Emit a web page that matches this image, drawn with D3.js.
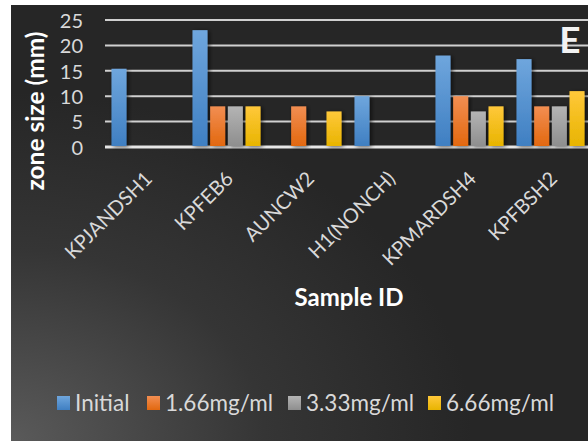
<!DOCTYPE html>
<html><head><meta charset="utf-8">
<script src="https://cdn.jsdelivr.net/npm/d3@7"></script>
<style>html,body{margin:0;padding:0;background:#fff;}svg{display:block;}</style>
</head><body>
<script>
const categories = ["KPJANDSH1","KPFEB6","AUNCW2","H1(NONCH)","KPMARDSH4","KPFBSH2"];
const seriesNames = ["Initial","1.66mg/ml","3.33mg/ml","6.66mg/ml"];
const initial = [15.4, 23, 0, 10, 18, 17.3];
const c166 = [0, 8, 8, 0, 10, 8];
const c333 = [0, 8, 0, 0, 7, 8];
const c666 = [0, 8, 7, 0, 8, 11];
const yTicks = [0,5,10,15,20,25];
const seriesValues = [initial, c166, c333, c666];
const colorsTop = ["#6fa6dd","#f28e52","#b4b4b4","#ffc83a"];
const colorsBot = ["#3f7fc2","#e2680f","#8e8e8e","#e8b400"];

const W=588,H=441;
const svg=d3.select("body").append("svg").attr("width",W).attr("height",H);
const defs=svg.append("defs");
const bg=defs.append("radialGradient").attr("id","bg").attr("cx","0").attr("cy","1").attr("r","0.8")
  .attr("gradientUnits","objectBoundingBox");
bg.append("stop").attr("offset","0").attr("stop-color","#5a5a5a");
bg.append("stop").attr("offset","0.55").attr("stop-color","#353535");
bg.append("stop").attr("offset","1").attr("stop-color","#262626");
seriesNames.forEach((s,i)=>{
  const g=defs.append("linearGradient").attr("id","g"+i).attr("x1",0).attr("y1",0).attr("x2",0).attr("y2",1);
  g.append("stop").attr("offset",0).attr("stop-color",colorsTop[i]);
  g.append("stop").attr("offset",1).attr("stop-color",colorsBot[i]);
});
const sh=defs.append("filter").attr("id","sh").attr("x","-30%").attr("y","-10%").attr("width","160%").attr("height","130%");
sh.append("feDropShadow").attr("dx",2).attr("dy",1).attr("stdDeviation",2).attr("flood-color","#000").attr("flood-opacity",0.6);

svg.append("rect").attr("x",11).attr("y",5).attr("width",W-11).attr("height",H-5).attr("fill","url(#bg)");

const font="Lato, 'Open Sans', sans-serif";
const x0=d3.scaleBand().domain(categories).range([105,591]).paddingInner(0.16).paddingOuter(0.08);
const x1=d3.scaleBand().domain(seriesNames).range([0,x0.bandwidth()]).paddingInner(0.15);
const y=d3.scaleLinear().domain([0,25]).range([147,20]);

// gridlines
svg.append("g").selectAll("line").data(yTicks).join("line")
  .attr("x1",105).attr("x2",W).attr("y1",d=>y(d)).attr("y2",d=>y(d))
  .attr("stroke",d=>d===0?"#e6e6e6":"#d0d0d0").attr("stroke-width",d=>d===0?3:2);

// y axis labels
const yAxis=d3.axisLeft(y).tickValues(yTicks).tickSize(0).tickPadding(0);
const ya=svg.append("g").attr("transform","translate(83,0)").call(yAxis);
ya.select(".domain").remove();
ya.selectAll("text").attr("font-family",font).attr("font-size",20).attr("fill","#d9d9d9").attr("dy","0.36em");

// bars
const groups=svg.append("g").selectAll("g").data(categories).join("g")
  .attr("transform",d=>`translate(${x0(d)},0)`);
groups.selectAll("rect").data((d,ci)=>seriesNames.map((s,si)=>({s,si,v:seriesValues[si][ci]})).filter(e=>e.v>0))
  .join("rect").attr("x",e=>x1(e.s)).attr("width",x1.bandwidth())
  .attr("y",e=>y(e.v)).attr("height",e=>y(0)-y(e.v)-1)
  .attr("fill",e=>`url(#g${e.si})`).attr("filter","url(#sh)");

// x labels
svg.append("g").selectAll("text").data(categories).join("text")
  .attr("transform",d=>`translate(${x0(d)+x0.bandwidth()/2+8},180) rotate(-45)`)
  .attr("text-anchor","end").attr("font-family",font).attr("font-size",20).attr("fill","#d9d9d9")
  .text(d=>d);

// axis titles
svg.append("text").attr("x",349).attr("y",306).attr("text-anchor","middle")
  .attr("font-family",font).attr("font-weight","bold").attr("font-size",24).attr("fill","#fff").text("Sample ID");
svg.append("text").attr("transform","translate(44,111) rotate(-90)").attr("text-anchor","middle")
  .attr("font-family",font).attr("font-weight","bold").attr("font-size",24.5).attr("fill","#fff").text("zone size (mm)");

// panel letter
svg.append("text").attr("x",570).attr("y",53).attr("text-anchor","middle")
  .attr("font-family",font).attr("font-weight","bold").attr("font-size",37).attr("fill","#f2f2f2").text("E");

// legend
const legendX=[57,147,288,428];
const lg=svg.append("g").selectAll("g").data(seriesNames).join("g")
  .attr("transform",(d,i)=>`translate(${legendX[i]},396)`);
lg.append("rect").attr("width",13).attr("height",14).attr("fill",(d,i)=>`url(#g${i})`);
lg.append("text").attr("x",18).attr("y",15).attr("font-family",font).attr("font-size",22.5).attr("fill","#d9d9d9").text(d=>d);
</script>
</body></html>
